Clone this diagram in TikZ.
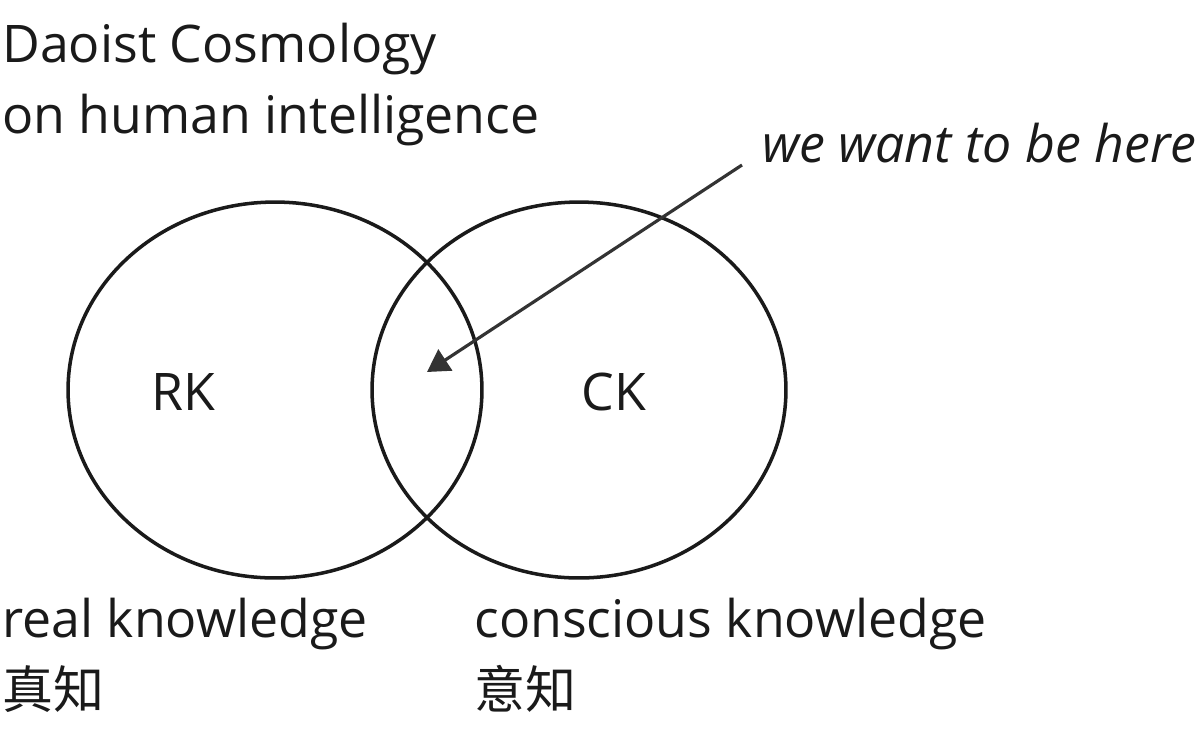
\documentclass[tikz,border=0pt]{standalone}
\usepackage{fontspec}
\setmainfont{Open Sans}
\newfontfamily\cjk{Noto Sans CJK SC}
\usetikzlibrary{shapes.geometric, arrows.meta, positioning}
\definecolor{inkdark}{HTML}{1A1A1A}
\definecolor{arrowgray}{HTML}{333333}
\tikzset{
    setring/.style={ellipse, draw=inkdark, line width=2pt, minimum width=8.28cm,
        minimum height=7.52cm, inner sep=0pt},
    bigtext/.style={anchor=base west, inner sep=0pt, text=inkdark,
        font=\fontsize{29.5}{36}\selectfont},
    setlabel/.style={anchor=base, inner sep=0pt, text=inkdark,
        font=\fontsize{29.5}{36}\selectfont},
    cjktext/.style={anchor=base west, inner sep=0pt, text=inkdark,
        font=\cjk\fontsize{29}{34}\selectfont},
    pointer/.style={-{Triangle[length=4.4mm, width=5mm]}, line width=1.8pt, arrowgray},
}
\begin{document}
\begin{tikzpicture}[x=0.02cm, y=-0.02cm]
    \useasboundingbox (0,0) rectangle (1200,728);
    % title
    \node[bigtext] (title1) at (2,62) {Daoist Cosmology};
    \node[bigtext] (title2) at (2,133) {on human intelligence};
    % the two sets
    \node[setring] (rkring) at (275,390) {};
    \node[setring] (ckring) at (579,390) {};
    \node[setlabel] (rk) at (183,410) {RK};
    \node[setlabel] (ck) at (614,410) {CK};
    % captions
    \node[bigtext] (realkn) at (2,637) {real knowledge};
    \node[cjktext] (zhenzhi) at (2,708) {真知};
    \node[bigtext] (conskn) at (474,637) {conscious knowledge};
    \node[cjktext] (yizhi) at (474,708) {意知};
    % pointer into the overlap
    \node[bigtext, font=\itshape\fontsize{29.5}{36}\selectfont] (want) at (762,162) {we want to be here};
    \coordinate (tail) at (742,165);
    \coordinate (here) at (427,372);
    \draw[pointer] (tail) -- (here);
\end{tikzpicture}
\end{document}
